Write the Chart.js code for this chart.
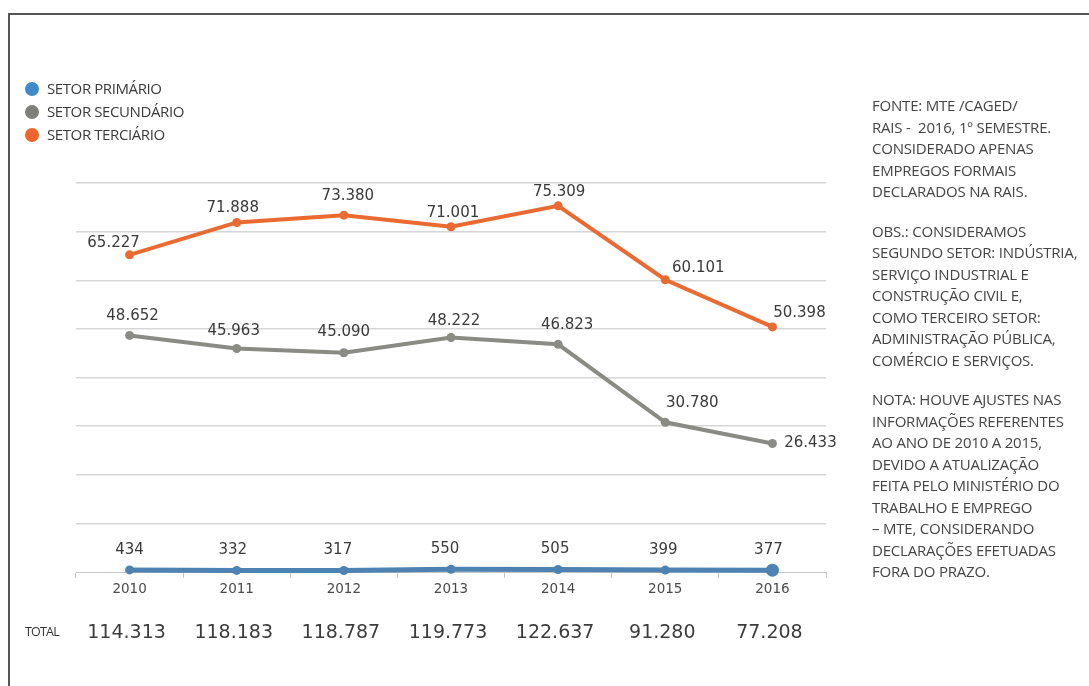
<!DOCTYPE html>
<html lang="pt-BR">
<head>
<meta charset="utf-8">
<title>Empregos formais por setor 2010-2016</title>
<script src="https://cdn.jsdelivr.net/npm/chart.js@4/dist/chart.umd.min.js"></script>
<style>
  html, body { margin: 0; padding: 0; background: #fff; }
  #page { position: relative; width: 1089px; height: 686px; overflow: hidden; background: #fff; }
  #frame {
    position: absolute; left: 8px; top: 13px; right: 0; bottom: 0;
    border-top: 2px solid #555; border-left: 2px solid #555;
  }
  #chart-wrap { position: absolute; left: 0; top: 0; width: 1089px; height: 686px; }
  #legend { position: absolute; left: 25px; top: 77px; font-family: "Open Sans", sans-serif; font-size: 15px; color: #3a3a3a; }
  #legend .item { height: 23px; line-height: 23px; white-space: nowrap; letter-spacing: -0.4px; }
  #legend .dot { display: inline-block; width: 14px; height: 14px; border-radius: 50%; vertical-align: -2px; margin-right: 8px; }
  #notes {
    position: absolute; left: 872px; top: 95px; width: 217px;
    font-family: "Open Sans", sans-serif; font-size: 15px; line-height: 21.5px;
    color: #444; letter-spacing: -0.2px; white-space: nowrap;
  }
  #notes p { margin: 0 0 18px 0; }
  #total-label {
    position: absolute; left: 25px; top: 623px;
    font-family: "Open Sans", sans-serif; font-size: 12.5px; color: #333; letter-spacing: -0.8px;
  }
</style>
</head>
<body>
<div id="page">
  <div id="frame"></div>
  <div id="chart-wrap"><canvas id="setores-chart"></canvas></div>
  <div id="legend"></div>
  <div id="notes">
    <p>FONTE: MTE /CAGED/<br>RAIS -&nbsp; 2016, 1º SEMESTRE.<br>CONSIDERADO APENAS<br>EMPREGOS FORMAIS<br>DECLARADOS NA RAIS.</p>
    <p>OBS.: CONSIDERAMOS<br>SEGUNDO SETOR: INDÚSTRIA,<br>SERVIÇO INDUSTRIAL E<br>CONSTRUÇÃO CIVIL E,<br>COMO TERCEIRO SETOR:<br>ADMINISTRAÇÃO PÚBLICA,<br>COMÉRCIO E SERVIÇOS.</p>
    <p>NOTA: HOUVE AJUSTES NAS<br>INFORMAÇÕES REFERENTES<br>AO ANO DE 2010 A 2015,<br>DEVIDO A ATUALIZAÇÃO<br>FEITA PELO MINISTÉRIO DO<br>TRABALHO E EMPREGO<br>– MTE, CONSIDERANDO<br>DECLARAÇÕES EFETUADAS<br>FORA DO PRAZO.</p>
  </div>
  <div id="total-label">TOTAL</div>
</div>
<script>
const anos       = ['2010', '2011', '2012', '2013', '2014', '2015', '2016'];
const primario   = [434, 332, 317, 550, 505, 399, 377];
const secundario = [48652, 45963, 45090, 48222, 46823, 30780, 26433];
const terciario  = [65227, 71888, 73380, 71001, 75309, 60101, 50398];
const totais     = [114313, 118183, 118787, 119773, 122637, 91280, 77208];
const eixoMax    = 80000;
const eixoPasso  = 10000;

// where each value label sits relative to its point (dx, dy in px)
const labelShift = [
  [[0, -20], [-4, -20], [-6, -20], [-6, -20], [-3, -20], [-2, -20], [-4, -20]],
  [[3, -19], [-3, -17], [0, -21], [3, -16], [9, -19], [27, -19], [38, 0]],
  [[-16, -12], [-4, -14], [4, -19], [2, -14], [1, -14], [33, -12], [27, -14]]
];

const cores = {
  primario:   { line: '#4d82b2', dot: '#3f8bc9' },
  secundario: { line: '#8b8b85', dot: '#80807a' },
  terciario:  { line: '#ea6a32', dot: '#f0652b' }
};

function fmt(v) {
  return String(v).replace(/\B(?=(\d{3})+(?!\d))/g, '.');
}

// legend
const legend = document.getElementById('legend');
[['SETOR PRIMÁRIO', cores.primario.dot],
 ['SETOR SECUNDÁRIO', cores.secundario.dot],
 ['SETOR TERCIÁRIO', cores.terciario.dot]].forEach(([nome, cor]) => {
  const div = document.createElement('div');
  div.className = 'item';
  div.innerHTML = `<span class="dot" style="background:${cor}"></span>${nome}`;
  legend.appendChild(div);
});

const valueLabels = {
  id: 'valueLabels',
  afterDatasetsDraw(chart) {
    const ctx = chart.ctx;
    ctx.save();
    ctx.font = '15px "DejaVu Sans", sans-serif';
    ctx.fillStyle = '#3a3a3a';
    ctx.textAlign = 'center';
    ctx.textBaseline = 'middle';
    chart.data.datasets.forEach((ds, di) => {
      chart.getDatasetMeta(di).data.forEach((pt, i) => {
        const [dx, dy] = labelShift[di][i];
        ctx.fillText(fmt(ds.data[i]), pt.x + dx, pt.y + dy);
      });
    });

    // totals row under the year axis
    const x = chart.scales.x;
    ctx.font = '19px "DejaVu Sans", sans-serif';
    ctx.fillStyle = '#3c3c3c';
    totais.forEach((t, i) => {
      ctx.fillText(fmt(t), x.getPixelForValue(i) - 3, 633);
    });
    ctx.restore();
  }
};

function serie(label, data, cor, width, radius) {
  return {
    label,
    data,
    borderColor: cor,
    backgroundColor: cor,
    pointBackgroundColor: cor,
    pointBorderColor: cor,
    borderWidth: width,
    pointRadius: radius,
    pointBorderWidth: 0,
    tension: 0,
    clip: false
  };
}

new Chart(document.getElementById('setores-chart'), {
  type: 'line',
  data: {
    labels: anos,
    datasets: [
      serie('Setor Primário', primario, cores.primario.line, 5, [4.5, 4.5, 4.5, 4.5, 4.5, 4.5, 6.5]),
      serie('Setor Secundário', secundario, cores.secundario.line, 4, 4.5),
      serie('Setor Terciário', terciario, cores.terciario.line, 4, 4.5)
    ]
  },
  options: {
    responsive: true,
    maintainAspectRatio: false,
    animation: false,
    layout: { padding: { left: 76, right: 263, top: 183, bottom: 74 } },
    plugins: {
      legend: { display: false },
      tooltip: { enabled: false }
    },
    scales: {
      x: {
        offset: true,
        afterFit(scale) { scale.height = 40; },
        border: { display: true, color: '#c6c6c6', width: 1 },
        grid: {
          offset: true,
          drawOnChartArea: false,
          drawTicks: true,
          tickLength: 6,
          color: '#c6c6c6'
        },
        ticks: {
          padding: 3,
          color: '#4a4a4a',
          font: { family: '"DejaVu Sans", sans-serif', size: 13.5 }
        }
      },
      y: {
        min: 0,
        max: eixoMax,
        afterFit(scale) { scale.width = 0; },
        border: { display: false },
        grid: {
          drawTicks: false,
          lineWidth: 1.5,
          color: c => (c.tick && c.tick.value === 0) ? 'rgba(0,0,0,0)' : '#d6d6d6'
        },
        ticks: { display: false, stepSize: eixoPasso }
      }
    }
  },
  plugins: [valueLabels]
});
</script>
</body>
</html>
